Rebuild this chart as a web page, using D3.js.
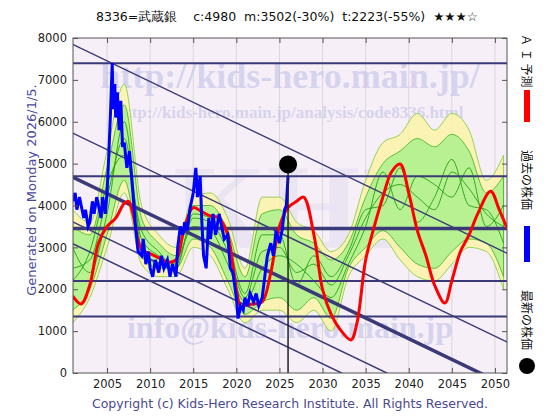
<!DOCTYPE html>
<html><head><meta charset="utf-8">
<script src="https://cdn.jsdelivr.net/npm/d3@7.9.0/dist/d3.min.js"></script>
<style>body{margin:0;background:#fff}</style>
</head><body>
<svg id="c" width="560" height="420"></svg>
<script>
// band years (every 2 years)
const bandYears = d3.range(2001, 2052, 2);
const yelHi = [3900,3600,5300,6900,4000,3300,3000,4200,4300,3700,2500,4200,4200,3600,3400,2900,3300,4600,5500,5700,6200,5800,6200,5800,4600,5200];
const yelLo = [1200,1800,3000,4300,2600,2300,2300,3000,2800,2000,1200,1500,1500,1200,1500,1000,2300,2800,3200,2700,2300,2200,2600,3000,2900,2000];
const grnHi = [3500,3300,4900,6400,3700,3100,2800,4000,4000,3400,2300,3800,3900,3300,3100,2700,3100,4200,5000,5300,5600,5400,5700,5300,4300,4700];
const grnLo = [1500,2000,3300,4600,2800,2500,2500,3200,3000,2200,1400,1700,1800,1500,1800,1300,2500,3000,3400,3000,2600,2500,2900,3200,3100,2300];
const g1 = [2500,2700,4200,5600,3200,2800,2600,3700,3600,2900,1800,2900,3000,2400,2600,2100,2800,3700,4300,4500,4200,3900,4800,4400,3800,3500];
const g2 = [3000,2400,3800,6000,3000,2600,2700,3500,3400,2600,1700,2500,2800,2600,2200,1800,2600,3500,4800,3900,4700,4500,4200,4900,3500,4000];
const g3 = [2200,2900,4500,5200,3400,2900,2500,3800,3700,3100,1900,3300,3300,2100,2800,2300,2900,3900,4000,4900,3600,4200,5100,4000,3900,3100];

// past price
const pastYears = [2001,2001.3,2001.5,2001.8,2002,2002.3,2002.5,2002.8,2003,2003.3,2003.5,2003.8,2004,2004.3,2004.5,2004.8,2005,2005.2,2005.4,2005.6,2005.7,2005.9,2006,2006.2,2006.4,2006.6,2006.8,2007,2007.3,2007.6,2008,2008.3,2008.6,2009,2009.2,2009.5,2009.8,2010,2010.3,2010.6,2011,2011.3,2011.6,2012,2012.3,2012.6,2013,2013.2,2013.5,2013.8,2014,2014.3,2014.6,2015,2015.3,2015.5,2015.8,2016,2016.2,2016.5,2016.8,2017,2017.3,2017.6,2018,2018.3,2018.6,2019,2019.3,2019.6,2020,2020.2,2020.5,2020.8,2021,2021.3,2021.6,2022,2022.3,2022.6,2023,2023.3,2023.6,2024,2024.3,2024.6,2025,2025.3,2025.6,2025.8,2026];
const pastVals = [4100,4300,3900,4200,4000,3700,3900,3500,3600,4100,3800,4200,4000,3700,4200,3800,4300,5200,6200,7400,6300,6900,6100,6700,5800,6500,5400,5500,4900,5300,4300,3500,2900,2800,3200,2600,2900,2500,2300,2700,2400,2800,2500,2700,2300,2600,2300,3000,3500,3300,3600,3400,3900,4300,4900,4200,4700,3600,2800,2500,3700,3200,3800,3300,3800,3500,3200,3300,2500,2400,1800,1300,1600,1500,1800,1600,1900,1700,1900,1600,1800,2300,2800,3100,2800,3400,3100,3400,3900,4000,4700];

// AI forecast
const aiYears = [2001,2002,2003,2004,2005,2006,2007,2007.5,2008,2009,2010,2011,2012,2013,2014,2015,2016,2017,2018,2019,2020,2020.5,2021,2022,2023,2024,2025,2026,2027,2027.8,2029,2030,2031,2032,2033.3,2034,2035,2036,2037,2038,2039,2040,2041,2042,2043,2044.2,2045,2046,2047,2048,2049.5,2050.5,2051.4];
const aiVals = [1840,1650,2100,3100,3500,3700,4050,4100,3800,2950,2850,2750,2650,2700,3500,3950,3850,3750,3700,3300,2000,1600,1620,1650,1700,2400,3500,3950,4100,4200,3300,2000,1400,1050,790,1200,2700,3500,4200,4800,4990,4300,3400,2800,2100,1670,2200,2900,3300,3800,4340,3900,3460];

const latest = {year: 2026, value: 4980};
const hLines = [7400, 4700, 3450, 2200, 1350];
const hThick = [false, false, true, false, false];
// diagonal support lines: value at 2001, slope per year
const diagStart = [7850, 5730, 4680, 3610, 3090];
const diagThick = [false, false, true, false, false];
const diagSlope = -99;
const yTicks = [0,1000,2000,3000,4000,5000,6000,7000,8000];
const xTicks = [2005,2010,2015,2020,2025,2030,2035,2040,2045,2050];

const svg = d3.select('#c');
const L = 73, R = 507, T = 38, B = 373;
const x = d3.scaleLinear().domain([2001.05, 2051.4]).range([L, R]);
const y = d3.scaleLinear().domain([0, 8000]).range([B, T]);
const font = 'DejaVu Sans, sans-serif';

svg.append('defs').append('clipPath').attr('id','clip')
  .append('rect').attr('x',L).attr('y',T).attr('width',R-L).attr('height',B-T);

svg.append('rect').attr('x',L).attr('y',T).attr('width',R-L).attr('height',B-T).attr('fill','#f7eff7');

// grid
svg.append('g').selectAll('line').data(xTicks).join('line')
  .attr('x1',d=>x(d)).attr('x2',d=>x(d)).attr('y1',T).attr('y2',B)
  .attr('stroke','#d8d8d8').attr('stroke-width',1);

// watermarks
const wm = svg.append('g').attr('font-family','Liberation Serif, serif').attr('font-weight','bold')
  .attr('fill','#c0c0e8').attr('fill-opacity',0.6).attr('text-anchor','middle');
wm.append('text').attr('x',290).attr('y',248).attr('font-size',120).attr('fill-opacity',0.2).text('KHI');
wm.append('text').attr('x',290).attr('y',88).attr('font-size',36).text('http://kids-hero.main.jp/');
wm.append('text').attr('x',290).attr('y',118).attr('font-size',17).text('http://kids-hero.main.jp/analysis/code8336.html');
wm.append('text').attr('x',290).attr('y',338).attr('font-size',32).text('info@kids-hero.main.jp');

const plot = svg.append('g').attr('clip-path','url(#clip)');
const area = (hi, lo) => d3.area().curve(d3.curveMonotoneX)
  .x((d,i)=>x(bandYears[i])).y0((d,i)=>y(lo[i])).y1((d,i)=>y(hi[i]));
plot.append('path').datum(yelHi).attr('d', area(yelHi, yelLo)).attr('fill','#fbf3a8').attr('fill-opacity',0.85)
  .attr('stroke','#7acc3a').attr('stroke-width',0.8);
plot.append('path').datum(grnHi).attr('d', area(grnHi, grnLo)).attr('fill','#a8f08a').attr('fill-opacity',0.8)
  .attr('stroke','#40b020').attr('stroke-width',0.8);
const line = d3.line().curve(d3.curveMonotoneX).x((d,i)=>x(bandYears[i])).y(d=>y(d));
[g1,g2,g3].forEach(s => plot.append('path').attr('d', line(s)).attr('fill','none').attr('stroke','#22a010').attr('stroke-width',0.9));

// horizontal & diagonal lines
hLines.forEach((v,i) => plot.append('line').attr('x1',L).attr('x2',R).attr('y1',y(v)).attr('y2',y(v))
  .attr('stroke','#3a3a78').attr('stroke-width', hThick[i] ? 3.5 : 2));
diagStart.forEach((v,i) => plot.append('line')
  .attr('x1',x(2001)).attr('y1',y(v)).attr('x2',x(2060)).attr('y2',y(v + diagSlope*59))
  .attr('stroke','#3a3a78').attr('stroke-width', diagThick[i] ? 3.5 : 1.5));

// AI and past series
plot.append('path').attr('d', d3.line().curve(d3.curveCatmullRom).x((d,i)=>x(aiYears[i])).y(d=>y(d))(aiVals))
  .attr('fill','none').attr('stroke','#ff0000').attr('stroke-width',3);
plot.append('path').attr('d', d3.line().x((d,i)=>x(pastYears[i])).y(d=>y(d))(pastVals))
  .attr('fill','none').attr('stroke','#0000ff').attr('stroke-width',3);

// latest marker
svg.append('line').attr('x1',x(latest.year)).attr('x2',x(latest.year)).attr('y1',y(latest.value)).attr('y2',B)
  .attr('stroke','#222').attr('stroke-width',1.5);
svg.append('circle').attr('cx',x(latest.year)).attr('cy',y(latest.value)).attr('r',9).attr('fill','#000');

// frame and axes
svg.append('rect').attr('x',L).attr('y',T).attr('width',R-L).attr('height',B-T).attr('fill','none').attr('stroke','#555');
const ya = svg.append('g').attr('transform',`translate(${L},0)`)
  .call(d3.axisLeft(y).tickValues(yTicks).tickSize(-5).tickPadding(6).tickFormat(d3.format('d')));
const yr = svg.append('g').attr('transform',`translate(${R},0)`)
  .call(d3.axisRight(y).tickValues(yTicks).tickSize(-5).tickFormat(''));
const xa = svg.append('g').attr('transform',`translate(0,${B})`)
  .call(d3.axisBottom(x).tickValues(xTicks).tickSize(-5).tickPadding(7).tickFormat(d3.format('d')));
const xt = svg.append('g').attr('transform',`translate(0,${T})`)
  .call(d3.axisTop(x).tickValues(xTicks).tickSize(-5).tickFormat(''));
[ya,yr,xa,xt].forEach(g => { g.select('.domain').remove(); g.selectAll('line').attr('stroke','#555');
  g.selectAll('text').attr('font-family',font).attr('font-size',11.5).attr('fill','#222'); });

// texts
svg.append('text').attr('x',287).attr('y',21).attr('text-anchor','middle').attr('font-family',font).attr('font-size',12.5)
  .attr('fill','#111').attr('xml:space','preserve').text('8336=武蔵銀    c:4980  m:3502(-30%)  t:2223(-55%)  ★★★☆');
svg.append('text').attr('transform','translate(36,190) rotate(-90)').attr('text-anchor','middle')
  .attr('font-family',font).attr('font-size',13).attr('fill','#4a4aa0').text('Generated on Monday 2026/1/5.');
svg.append('text').attr('x',290).attr('y',408).attr('text-anchor','middle').attr('font-family',font).attr('font-size',12.5)
  .attr('fill','#4a4a90').text('Copyright (c) Kids-Hero Research Institute. All Rights Reserved.');

// right legend (text rotated 90deg)
const legend = [
  {label:'Ａ Ｉ 予測', ty:34, color:'#ff0000', by:90, bh:32},
  {label:'過去の株価', ty:150, color:'#0000ff', by:226, bh:36},
  {label:'最新の株価', ty:290, color:null},
];
legend.forEach(d => {
  svg.append('text').attr('transform',`translate(522,${d.ty}) rotate(90)`)
    .attr('font-family','Noto Sans CJK JP').attr('font-size',12).attr('fill','#111').text(d.label);
  if (d.color) svg.append('rect').attr('x',524).attr('y',d.by).attr('width',6).attr('height',d.bh).attr('fill',d.color);
});
svg.append('circle').attr('cx',527).attr('cy',366).attr('r',8).attr('fill','#000');
</script>
</body></html>
